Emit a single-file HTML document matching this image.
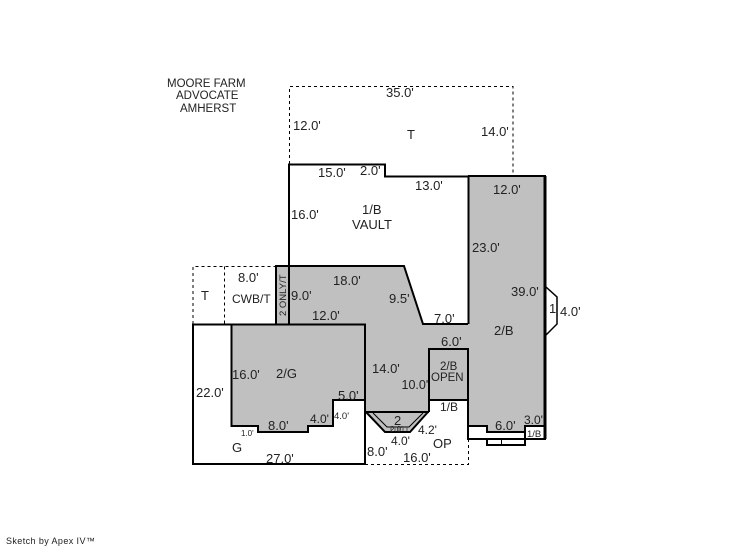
<!DOCTYPE html>
<html>
<head>
<meta charset="utf-8">
<style>
html,body{margin:0;padding:0;background:#fff;width:746px;height:547px;overflow:hidden}
svg{display:block}
text{font-family:"Liberation Sans",sans-serif;font-size:13px;fill:#222}
.s{font-size:11.5px}
.xs{font-size:9.5px}
.t{font-size:8px}
</style>
</head>
<body>
<svg width="746" height="547" viewBox="0 0 746 547">
<!-- gray fills -->
<polygon points="276,266 404,266 423,324 468,324 468,176 545,176 545,426 525,426 525,432 487,432 487,426 468,426 468,400 429,400 429,412 365,412 365,324 276,324" fill="#c0c0c0"/>
<polygon points="231,324 365,324 365,400 333,400 333,426 308,426 308,432 258,432 258,426 231,426" fill="#c0c0c0"/>
<polygon points="366,412 428,412 410,432 385,432" fill="#c0c0c0"/>
<!-- dashed -->
<g fill="none" stroke="#000" stroke-width="1" stroke-dasharray="3 3">
<path d="M289.500 164V86.500H513V176"/>
<path d="M193 324V266.500H276"/>
<path d="M224.500 266.500V324"/>
<path d="M365 464.500H468.500V439"/>
</g>
<!-- solid walls -->
<g fill="none" stroke="#000" stroke-width="2">
<path d="M289 324V164.500H385V176.500H468"/>
<path d="M468.500 176V324"/>
<path d="M276 324V266H404L423 324H468"/>
<path d="M193 324.500H365V464H193Z"/>
<path d="M231.500 324V426H258V432H308V426H333V400H365"/>
<path d="M365 324V412H429"/>
<path d="M429 412V349H468V412"/>
<path d="M429 400H468"/>
<path d="M468 176H545V439H468V426H487V432H525V426H545"/>
<path d="M525 426V439"/>
<path d="M487 439V445H525V439"/>
<path d="M468 412V439"/>
<path d="M366 412L385 432H410L428 412"/>
</g>
<path d="M373 413L387 427H409L423 413" fill="none" stroke="#000" stroke-width="1"/>
<path d="M545 176V439" fill="none" stroke="#000" stroke-width="3"/>
<path d="M546 287L557 297V324L546 335" fill="none" stroke="#000" stroke-width="1.500"/>
<path d="M501.500 439V445" stroke="#000" stroke-width="1"/>
<path d="M391 431V427M395 431V427M399 431V427M403 431V427M407 431V427" stroke="#555" stroke-width="1"/>
<!-- title -->
<text class="s" x="167" y="87">MOORE FARM</text>
<text class="s" x="176" y="99">ADVOCATE</text>
<text class="s" x="180" y="112">AMHERST</text>
<!-- labels -->
<text x="386" y="97">35.0'</text>
<text x="293" y="130">12.0'</text>
<text x="407" y="139">T</text>
<text x="481" y="136">14.0'</text>
<text x="318" y="177">15.0'</text>
<text x="360" y="175">2.0'</text>
<text x="415" y="190">13.0'</text>
<text x="493" y="194">12.0'</text>
<text x="291" y="219">16.0'</text>
<text x="362" y="214">1/B</text>
<text x="352" y="229">VAULT</text>
<text x="472" y="252">23.0'</text>
<text x="238" y="282">8.0'</text>
<text x="333" y="285">18.0'</text>
<text x="511" y="296">39.0'</text>
<text x="201" y="300">T</text>
<text class="s" x="232" y="303" style="font-size:12px">CWB/T</text>
<text x="291" y="300">9.0'</text>
<text x="389" y="303">9.5'</text>
<text x="549" y="313">1</text>
<text x="560" y="316">4.0'</text>
<text x="312" y="320">12.0'</text>
<text x="434" y="323">7.0'</text>
<text x="494" y="335">2/B</text>
<text x="441" y="346">6.0'</text>
<text class="s" x="440" y="370">2/B</text>
<text style="font-size:11.500px" x="431" y="381">OPEN</text>
<text x="372" y="373">14.0'</text>
<text style="font-size:12.500px" x="401.500" y="389">10.0'</text>
<text x="232" y="379">16.0'</text>
<text x="276" y="378">2/G</text>
<text x="196" y="397">22.0'</text>
<text x="338" y="400">5.0'</text>
<text class="s" x="440" y="411" style="font-size:12px">1/B</text>
<text class="xs" x="334" y="419">4.0'</text>
<text x="394" y="425">2</text>
<text class="t" x="390" y="432">2.0'</text>
<text class="s" x="310" y="423" style="font-size:12px">4.0'</text>
<text x="268" y="430">8.0'</text>
<text x="495" y="430">6.0'</text>
<text class="s" x="524" y="424" style="font-size:12px">3.0'</text>
<text class="xs" x="527" y="437">1/B</text>
<text class="t" x="241" y="436">1.0'</text>
<text class="s" x="418" y="434" style="font-size:12px">4.2'</text>
<text class="s" x="391" y="445" style="font-size:12px">4.0'</text>
<text x="433" y="448">OP</text>
<text x="232" y="452">G</text>
<text x="367" y="456">8.0'</text>
<text x="403" y="462">16.0'</text>
<text x="266" y="463">27.0'</text>
<text transform="translate(286 316) rotate(-90)" style="font-size:9.500px">2 ONLY/T</text>
<text x="6" y="544" style="font-size:9px;letter-spacing:.4px">Sketch by Apex IV™</text>
</svg>
</body>
</html>
